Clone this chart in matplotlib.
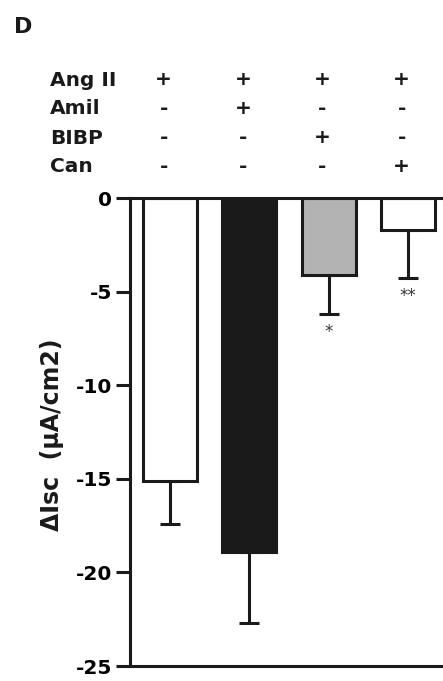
import numpy as np
import matplotlib
matplotlib.use("Agg")
import matplotlib.pyplot as plt
import matplotlib.transforms as mtransforms

plt.rcParams['font.family'] = ['DejaVu Sans']
plt.rcParams['font.weight'] = 'bold'

# data
groups = ["1", "2", "3", "4"]
means = [-15.1, -18.9, -4.1, -1.7]
sem = [2.3, 3.8, 2.1, 2.6]
colors = ["white", "#1a1a1a", "#b3b3b3", "white"]
signif = ["", "", "*", "**"]

row_names = ["Ang II", "Amil", "BIBP", "Can"]
treat = [["+", "+", "+", "+"],
         ["-", "+", "-", "-"],
         ["-", "-", "+", "-"],
         ["-", "-", "-", "+"]]
yticks = [0, -5, -10, -15, -20, -25]

W, H = 443, 681
fig = plt.figure(figsize=(W / 100, H / 100), dpi=100)
ax = fig.add_axes([130 / W, 1 - 666 / H, 1 - 130 / W, (666 - 198) / H])

x = np.arange(len(groups))
lw = 2.2
ax.bar(x, means, width=0.68, color=colors, edgecolor="#1a1a1a", linewidth=lw, zorder=2)
ax.errorbar(x, means, yerr=[sem, [0] * len(sem)], fmt="none", ecolor="#1a1a1a",
            elinewidth=lw, capsize=7, capthick=lw, zorder=1)

for xi, m, s, t in zip(x, means, sem, signif):
    if t:
        ax.text(xi, m - s - 0.95, t, ha="center", va="center", fontsize=12,
                fontweight="normal", color="#333333")

ax.set_xlim(-0.505, 3.44)
ax.set_ylim(-25, 0)
ax.set_yticks(yticks)
ax.set_yticklabels([str(v) for v in yticks], fontsize=14.5, fontweight="bold")
ax.set_xticks([])
ax.tick_params(axis="y", direction="out", length=10, width=lw, pad=3, color="#1a1a1a")
for side in ["left", "top", "bottom"]:
    ax.spines[side].set_linewidth(lw)
    ax.spines[side].set_color("#1a1a1a")
ax.spines["right"].set_visible(False)

# treatment table above the bars
trans = mtransforms.blended_transform_factory(ax.transData, fig.transFigure)
baselines = [85.7, 114.5, 143.5, 172]
for name, row, yb in zip(row_names, treat, baselines):
    fig.text(50 / W, 1 - yb / H, name, fontsize=14.5, fontweight="bold",
             ha="left", va="baseline", color="#1a1a1a")
    for xi, sym in zip(x, row):
        ax.text(xi - 0.08, 1 - (yb - 6) / H, sym, transform=trans, fontsize=14.5,
                fontweight="bold", ha="center", va="center", color="#1a1a1a")

fig.text(52 / W, 1 - 435 / H, "\u0394Isc  (\u03bcA/cm2)", rotation=90, fontsize=17,
         fontweight="bold", ha="center", va="center", color="#1a1a1a")
fig.text(14 / W, 1 - 33 / H, "D", fontsize=16, fontweight="bold", ha="left",
         va="baseline", color="#1a1a1a")

fig.savefig("out.png", dpi=100)
